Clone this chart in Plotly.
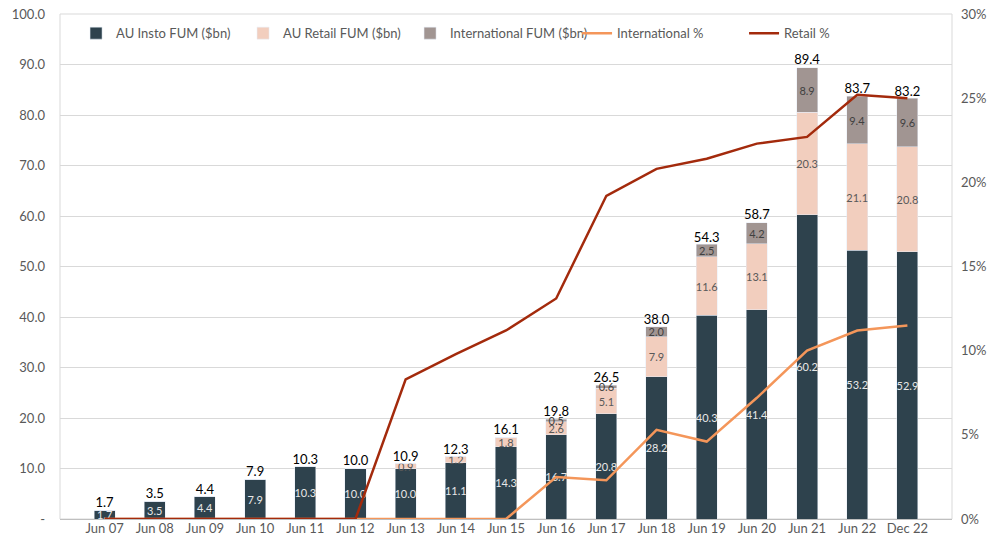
import plotly.graph_objects as go

categories = ["Jun 07", "Jun 08", "Jun 09", "Jun 10", "Jun 11", "Jun 12", "Jun 13", "Jun 14", "Jun 15",
              "Jun 16", "Jun 17", "Jun 18", "Jun 19", "Jun 20", "Jun 21", "Jun 22", "Dec 22"]
insto = [1.7, 3.5, 4.4, 7.9, 10.3, 10.0, 10.0, 11.1, 14.3, 16.7, 20.8, 28.2, 40.3, 41.4, 60.2, 53.2, 52.9]
retail = [0, 0, 0, 0, 0, 0, 0.9, 1.2, 1.8, 2.6, 5.1, 7.9, 11.6, 13.1, 20.3, 21.1, 20.8]
intl = [0, 0, 0, 0, 0, 0, 0, 0, 0, 0.5, 0.6, 2.0, 2.5, 4.2, 8.9, 9.4, 9.6]
totals = [1.7, 3.5, 4.4, 7.9, 10.3, 10.0, 10.9, 12.3, 16.1, 19.8, 26.5, 38.0, 54.3, 58.7, 89.4, 83.7, 83.2]
intl_pct = [0, 0, 0, 0, 0, 0, 0, 0, 0, 0.025, 0.023, 0.053, 0.046, 0.072, 0.100, 0.112, 0.115]
retail_pct = [0, 0, 0, 0, 0, 0, 0.083, 0.098, 0.112, 0.131, 0.192, 0.208, 0.214, 0.223, 0.227, 0.252, 0.250]

left_ticks = [0, 10, 20, 30, 40, 50, 60, 70, 80, 90, 100]
left_labels = ["-"] + [f"{v:.1f}" for v in left_ticks[1:]]
right_ticks = [0, 0.05, 0.10, 0.15, 0.20, 0.25, 0.30]
right_labels = ["0%", "5%", "10%", "15%", "20%", "25%", "30%"]

C_INSTO = "#2E424D"
C_RETAIL = "#F2CEBE"
C_INTL = "#A19592"
C_INTL_L = "#F4965A"
C_RETAIL_L = "#A32A0C"
FONT = "Lato, 'Open Sans', sans-serif"


def lbl(vals):
    return [f"{v:.1f}" if v > 0 else "" for v in vals]


fig = go.Figure()
fig.add_trace(go.Bar(x=categories, y=insto, name="AU Insto FUM ($bn)", marker_color=C_INSTO,
                     text=lbl(insto), textposition="inside", insidetextanchor="middle",
                     constraintext="none", textangle=0,
                     insidetextfont=dict(color="#E8E8E8", size=11, family=FONT)))
fig.add_trace(go.Bar(x=categories, y=retail, name="AU Retail FUM ($bn)", marker_color=C_RETAIL,
                     text=lbl(retail), textposition="inside", insidetextanchor="middle",
                     constraintext="none", textangle=0,
                     insidetextfont=dict(color="#595959", size=11, family=FONT)))
fig.add_trace(go.Bar(x=categories, y=intl, name="International FUM ($bn)", marker_color=C_INTL,
                     text=lbl(intl), textposition="inside", insidetextanchor="middle",
                     constraintext="none", textangle=0,
                     insidetextfont=dict(color="#404040", size=11, family=FONT)))
fig.add_trace(go.Scatter(x=categories, y=intl_pct, name="International %", mode="lines",
                         line=dict(color=C_INTL_L, width=2.5), yaxis="y2"))
fig.add_trace(go.Scatter(x=categories, y=retail_pct, name="Retail %", mode="lines",
                         line=dict(color=C_RETAIL_L, width=2.5), yaxis="y2"))
fig.add_trace(go.Scatter(x=categories, y=totals, mode="text", text=[f"{v:.1f}" for v in totals],
                         textposition="top center", showlegend=False, hoverinfo="skip",
                         textfont=dict(color="#000000", size=13, family=FONT)))

fig.update_layout(
    width=989, height=545,
    margin=dict(l=60, r=37, t=14, b=26, autoexpand=False),
    barmode="stack", bargap=0.58,
    plot_bgcolor="white", paper_bgcolor="white",
    font=dict(family=FONT, size=13, color="#595959"),
    legend=dict(orientation="h", x=0.018, y=0.962, xanchor="left", yanchor="middle",
                traceorder="normal", entrywidth=122, entrywidthmode="pixels",
                bgcolor="rgba(0,0,0,0)", font=dict(size=13, color="#595959"),
                itemwidth=30, tracegroupgap=0),
    xaxis=dict(showgrid=False, ticks="", tickfont=dict(size=13, color="#595959"),
               showline=False, zeroline=False, automargin=False),
    yaxis=dict(range=[0, 100], tickvals=left_ticks, ticktext=left_labels,
               showgrid=True, gridcolor="#D9D9D9", gridwidth=1, zeroline=True,
               zerolinecolor="#BFBFBF", zerolinewidth=1, ticklabeloverflow="allow",
               automargin=False,
               tickfont=dict(size=13, color="#595959"), ticks="", ticklabelstandoff=14),
    yaxis2=dict(range=[0, 0.30], tickvals=right_ticks, ticktext=right_labels, overlaying="y",
                side="right", showgrid=False, zeroline=False, ticklabelstandoff=8,
                ticklabeloverflow="allow", automargin=False,
                tickfont=dict(size=13, color="#595959"), ticks=""),
    shapes=[dict(type="rect", xref="paper", yref="paper", x0=0, x1=1, y0=0, y1=1,
                 line=dict(color="#D9D9D9", width=1), layer="below")],
)

fig.write_html("out.html", config={"displayModeBar": False},
               post_script="document.body.style.margin='0';document.body.style.overflow='hidden';")
